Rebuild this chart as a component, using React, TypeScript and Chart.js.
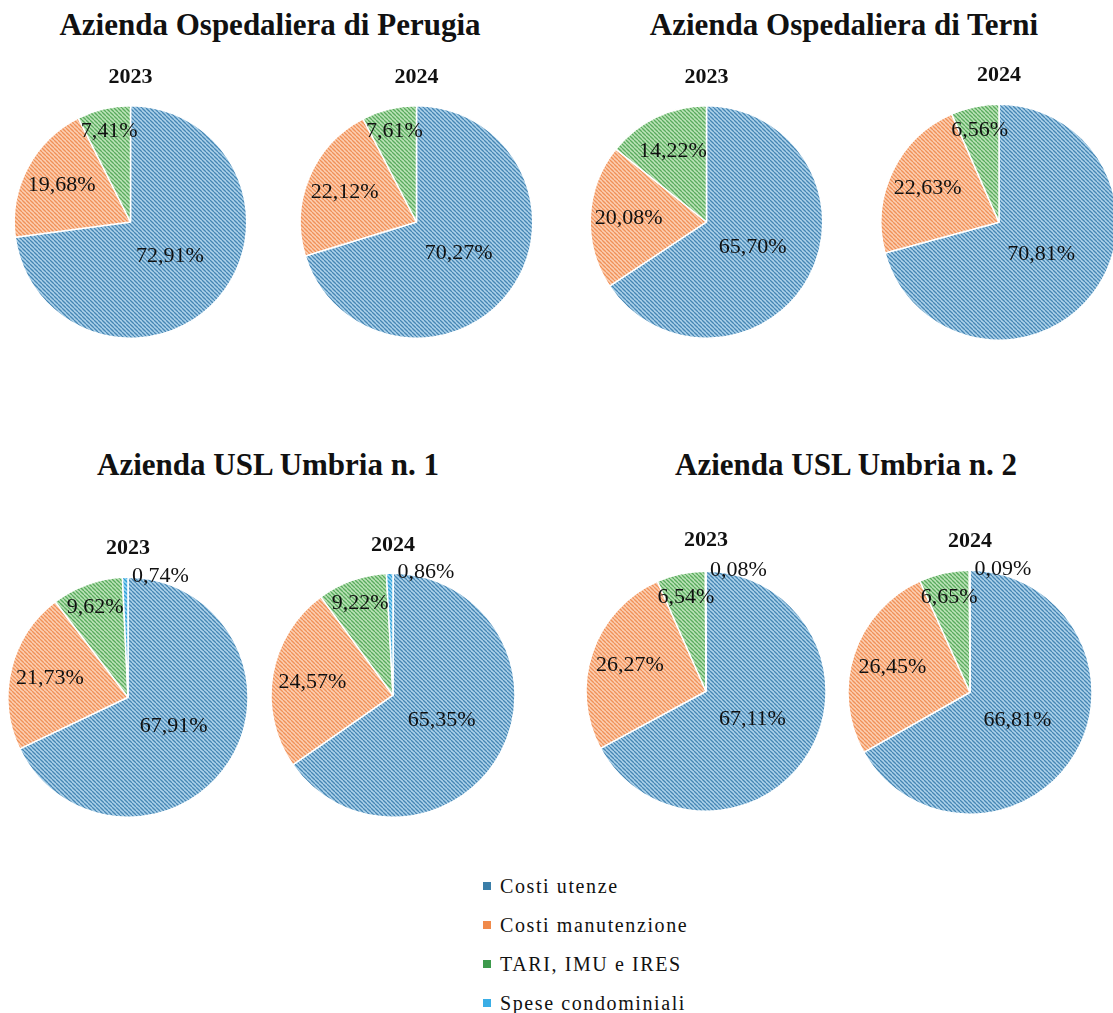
import React, { useEffect, useRef } from "react";
import { Chart, registerables } from "chart.js";

Chart.register(...registerables);

// ---------- DATA ----------
const categories = ["Costi utenze", "Costi manutenzione", "TARI, IMU e IRES", "Spese condominiali"];
const groupTitles = [
  "Azienda Ospedaliera di Perugia",
  "Azienda Ospedaliera di Terni",
  "Azienda USL Umbria n. 1",
  "Azienda USL Umbria n. 2",
];
const years = ["2023", "2024"];
const perugia2023 = [72.91, 19.68, 7.41];
const perugia2024 = [70.27, 22.12, 7.61];
const terni2023 = [65.7, 20.08, 14.22];
const terni2024 = [70.81, 22.63, 6.56];
const usl1_2023 = [67.91, 21.73, 9.62, 0.74];
const usl1_2024 = [65.35, 24.57, 9.22, 0.86];
const usl2_2023 = [67.11, 26.27, 6.54, 0.08];
const usl2_2024 = [66.81, 26.45, 6.65, 0.09];

// ---------- STYLE / LAYOUT ----------
const hatchBg = ["#add2ea", "#fccfb2", "#bce3b8", "#9ad6f2"];
const hatchLine = ["#4686b4", "#f09158", "#5aab5e", "#2c9ed8"];
const legendColors = ["#3b7ea8", "#f08a4b", "#3d9a4c", "#3aaee6"];
const SERIF = "'Liberation Serif', 'Times New Roman', serif";
const BW = 1.5;

type PieDef = { data: number[]; year: string; cx: number; cy: number; r: number; yearY: number };
const pies: PieDef[] = [
  { data: perugia2023, year: years[0], cx: 130, cy: 222, r: 116.5, yearY: 77 },
  { data: perugia2024, year: years[1], cx: 416, cy: 222, r: 116.5, yearY: 77 },
  { data: terni2023, year: years[0], cx: 706.5, cy: 222, r: 116.5, yearY: 77 },
  { data: terni2024, year: years[1], cx: 999, cy: 222, r: 118, yearY: 75 },
  { data: usl1_2023, year: years[0], cx: 128, cy: 697, r: 120, yearY: 548 },
  { data: usl1_2024, year: years[1], cx: 393, cy: 695, r: 122, yearY: 545 },
  { data: usl2_2023, year: years[0], cx: 706, cy: 691, r: 120, yearY: 540 },
  { data: usl2_2024, year: years[1], cx: 970, cy: 692, r: 122, yearY: 541 },
];
const titlePos = [
  { x: 270, y: 25 },
  { x: 844, y: 25 },
  { x: 268, y: 465 },
  { x: 846, y: 465 },
];

function makePattern(bg: string, line: string): CanvasPattern | string {
  const s = 4;
  const c = document.createElement("canvas");
  c.width = s;
  c.height = s;
  const g = c.getContext("2d");
  if (!g) return bg;
  g.fillStyle = bg;
  g.fillRect(0, 0, s, s);
  g.strokeStyle = line;
  g.lineWidth = 1.3;
  for (let k = -1; k <= 1; k++) {
    g.beginPath();
    g.moveTo(k * s, 0);
    g.lineTo(k * s + s, s);
    g.stroke();
  }
  const p = g.createPattern(c, "repeat");
  return p || bg;
}

const labelPlugin = {
  id: "sliceLabels",
  afterDatasetsDraw(chart: any) {
    const ctx = chart.ctx;
    const meta = chart.getDatasetMeta(0);
    const values: number[] = chart.data.datasets[0].data;
    const total = values.reduce((a, b) => a + b, 0);
    ctx.save();
    ctx.font = `22px ${SERIF}`;
    ctx.fillStyle = "#111";
    ctx.textAlign = "center";
    ctx.textBaseline = "middle";
    meta.data.forEach((arc: any, i: number) => {
      const { x, y, startAngle, endAngle, outerRadius } = arc.getProps(
        ["x", "y", "startAngle", "endAngle", "outerRadius"],
        true
      );
      const p = (values[i] / total) * 100;
      const txt = values[i].toFixed(2).replace(".", ",") + "%";
      let lx: number, ly: number;
      if (p < 2) {
        lx = x + outerRadius * 0.27;
        ly = y - outerRadius - 1;
      } else {
        const f = p >= 50 ? 0.45 : p >= 10 ? 0.67 : 0.8;
        const mid = (startAngle + endAngle) / 2;
        lx = x + Math.cos(mid) * outerRadius * f;
        ly = y + Math.sin(mid) * outerRadius * f;
      }
      ctx.fillText(txt, lx, ly);
    });
    ctx.restore();
  },
};

function PieChart({ def }: { def: PieDef }) {
  const ref = useRef<HTMLCanvasElement | null>(null);
  const lineH = 22 * 1.2;
  const width = Math.round(2 * def.r + 40);
  const top = def.yearY - lineH / 2;
  const padBottom = def.cy - def.r - BW / 2 - (def.yearY + lineH / 2);
  const height = lineH + padBottom + 2 * def.r + BW;
  const left = def.cx - width / 2;

  useEffect(() => {
    if (!ref.current) return;
    const n = def.data.length;
    const fills = def.data.map((_, i) => makePattern(hatchBg[i], hatchLine[i]));
    const chart = new Chart(ref.current, {
      type: "pie",
      data: {
        labels: categories.slice(0, n),
        datasets: [
          {
            data: def.data,
            backgroundColor: fills as any,
            borderColor: "#ffffff",
            borderWidth: BW,
          },
        ],
      },
      options: {
        responsive: false,
        maintainAspectRatio: false,
        animation: false,
        layout: { padding: 0 },
        plugins: {
          legend: { display: false },
          tooltip: { enabled: false },
          title: {
            display: true,
            text: def.year,
            color: "#111",
            font: { family: SERIF, size: 22, weight: "bold", lineHeight: 1.2 },
            padding: { top: 0, bottom: padBottom },
          },
        },
      },
      plugins: [labelPlugin],
    });
    return () => chart.destroy();
  }, []);

  return (
    <canvas
      ref={ref}
      width={width}
      height={Math.round(height)}
      style={{ position: "absolute", left, top, width, height: Math.round(height) }}
    />
  );
}

export default function App() {
  return (
    <div
      style={{
        position: "absolute",
        left: 0,
        top: 0,
        width: 1113,
        height: 1013,
        overflow: "hidden",
        background: "#fff",
        fontFamily: SERIF,
      }}
    >
      {groupTitles.map((t, i) => (
        <div
          key={t}
          style={{
            position: "absolute",
            left: titlePos[i].x - 300,
            width: 600,
            top: titlePos[i].y - 18,
            height: 36,
            lineHeight: "36px",
            textAlign: "center",
            fontWeight: "bold",
            fontSize: 31,
            color: "#111",
            whiteSpace: "nowrap",
          }}
        >
          {t}
        </div>
      ))}
      {pies.map((p, i) => (
        <PieChart key={i} def={p} />
      ))}
      {categories.map((c, i) => (
        <div
          key={c}
          style={{
            position: "absolute",
            left: 483,
            top: [886, 925, 964, 1003][i] - 14,
            height: 28,
            lineHeight: "28px",
            display: "flex",
            alignItems: "center",
            fontSize: 20,
            letterSpacing: 1.6,
            color: "#111",
            whiteSpace: "nowrap",
          }}
        >
          <span
            style={{
              display: "inline-block",
              width: 8,
              height: 8,
              background: legendColors[i],
              marginRight: 9,
            }}
          />
          {c}
        </div>
      ))}
    </div>
  );
}
